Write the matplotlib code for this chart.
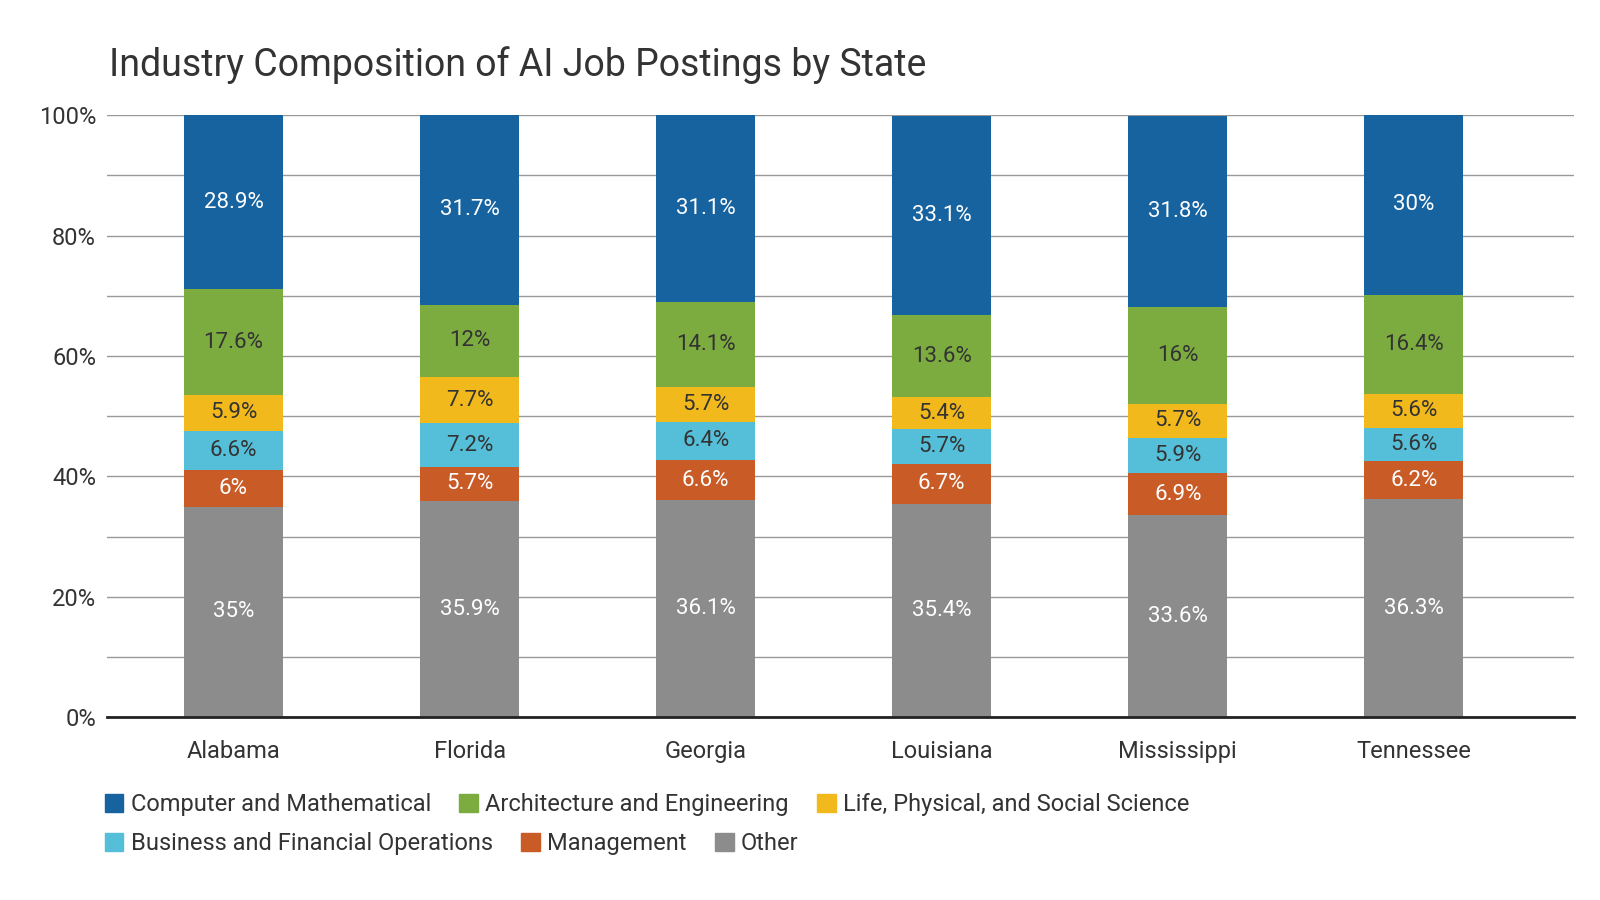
import matplotlib
matplotlib.use("Agg")
import matplotlib.pyplot as plt
from matplotlib.patches import Patch

states = ["Alabama", "Florida", "Georgia", "Louisiana", "Mississippi", "Tennessee"]
series = ["Other", "Management", "Business and Financial Operations",
          "Life, Physical, and Social Science", "Architecture and Engineering",
          "Computer and Mathematical"]
other = [35, 35.9, 36.1, 35.4, 33.6, 36.3]
management = [6, 5.7, 6.6, 6.7, 6.9, 6.2]
business = [6.6, 7.2, 6.4, 5.7, 5.9, 5.6]
life = [5.9, 7.7, 5.7, 5.4, 5.7, 5.6]
arch = [17.6, 12, 14.1, 13.6, 16, 16.4]
computer = [28.9, 31.7, 31.1, 33.1, 31.8, 30]
values = [other, management, business, life, arch, computer]
colors = ["#8c8c8c", "#c95b27", "#55bfd9", "#f2b91c", "#7cac40", "#1663a0"]
txtcol = ["white", "white", "#333333", "#333333", "#333333", "white"]

plt.rcParams['font.family'] = ['Roboto', 'DejaVu Sans']
fig = plt.figure(figsize=(16, 9), dpi=100)
ax = fig.add_axes([0.067, 0.203, 0.917, 0.669])
x = list(range(len(states)))
bottom = [0.0] * len(states)
for vals, c, tc in zip(values, colors, txtcol):
    ax.bar(x, vals, bottom=bottom, width=0.42, color=c, zorder=3)
    for i, v in enumerate(vals):
        y = bottom[i] + v / 2
        ax.text(i, y, f"{v:g}%", ha="center", va="center", color=tc,
                fontsize=16, zorder=4)
    bottom = [b + v for b, v in zip(bottom, vals)]

ax.set_ylim(0, 100)
ax.set_xlim(-0.535, 5.68)
ax.set_yticks(range(0, 101, 20))
ax.set_yticklabels([f"{t}%" for t in range(0, 101, 20)], fontsize=17, color="#333333")
ax.set_yticks(range(10, 100, 20), minor=True)
ax.grid(axis="y", which="both", color="#999999", linewidth=1, zorder=0)
ax.tick_params(axis="y", which="both", length=0, pad=8)
ax.set_xticks(x)
ax.set_xticklabels(states, fontsize=17, color="#333333")
ax.tick_params(axis="x", length=0, pad=16)
for s in ["top", "right", "left"]:
    ax.spines[s].set_visible(False)
ax.spines["bottom"].set_color("#222222")
ax.spines["bottom"].set_linewidth(2)
ax.spines["bottom"].set_zorder(5)

fig.text(0.068, 0.915, "Industry Composition of AI Job Postings by State", fontsize=27, color="#333333")

order1 = [5, 4, 3]
order2 = [2, 1, 0]
for order, y in [(order1, 0.106), (order2, 0.063)]:
    handles = [Patch(color=colors[i], label=series[i]) for i in order]
    fig.legend(handles=handles, loc="center left", bbox_to_anchor=(0.058, y), ncol=3, frameon=False,
               fontsize=17, handlelength=0.8, handleheight=0.8, handletextpad=0.3, columnspacing=1.2,
               labelcolor="#333333", borderpad=0)

fig.savefig("out.png", dpi=100)
